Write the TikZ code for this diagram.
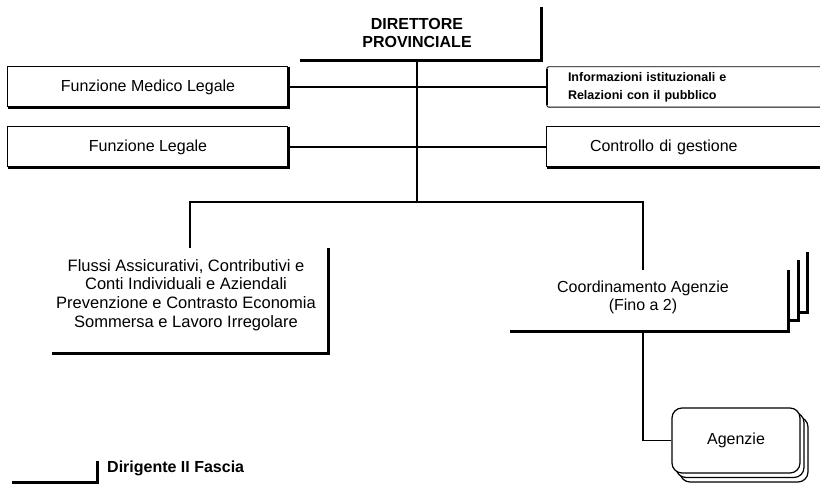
\documentclass[tikz,border=0pt]{standalone}
\usepackage{fontspec}
\setmainfont{Liberation Sans}
\usetikzlibrary{shadows,calc}

% raise a box without changing the extents used to centre it
\newcommand\liftbox[2]{\raisebox{#1}[\height][\depth]{#2}}

\begin{document}
\begin{tikzpicture}[x=1pt,y=-1pt,
  conn/.style={line width=1.5pt},
  heavy/.style={line width=3pt, line join=miter},
  hair/.style={line width=0.9pt},
  txt/.style={font=\fontsize{16}{18}\selectfont},
  box/.style={rectangle, inner sep=0pt, txt},
  boldtxt/.style={font=\bfseries\fontsize{16}{18}\selectfont},
]
\useasboundingbox (0,0) rectangle (820,486);
\clip (0,0) rectangle (820,486);

% --- head of the office
\node[box, boldtxt, minimum width=248pt, minimum height=52pt] (dir) at (417,34)
  {\liftbox{-1pt}{\begin{tabular}{@{}c@{}}DIRETTORE\\PROVINCIALE\end{tabular}}};
\draw[heavy] ([shift={(7,0)}]dir.south west) -- (dir.south east) -- ([shift={(0,-1)}]dir.north east);

% --- staff functions, left side
\node[box, minimum width=280pt, minimum height=40pt] (medico) at (148,87) {Funzione Medico Legale};
\draw[hair] (medico.south west) -- (medico.north west) -- (medico.north east);
\draw[heavy] (medico.north east) -- (medico.south east) -- (medico.south west);

\node[box, minimum width=280pt, minimum height=40pt] (legale) at (148,147) {Funzione Legale};
\draw[hair] (legale.south west) -- (legale.north west) -- (legale.north east);
\draw[heavy] (legale.north east) -- (legale.south east) -- (legale.south west);

% --- staff functions, right side
\node[box, minimum width=273pt, minimum height=40pt, text width=273pt, align=left,
      font=\bfseries\fontsize{12.5}{18}\selectfont] (info) at (683.5,87)
  {\hspace*{21pt}Informazioni istituzionali e\\\hspace*{21pt}Relazioni con il pubblico};
\draw[hair, rounded corners=2pt] (info.north east) -- (info.north west) -- (info.south west) -- (info.south east);
\draw[line width=1.8pt] ([shift={(0,2)}]info.north west) -- ([shift={(0,-2)}]info.south west);

\node[box, minimum width=273pt, minimum height=40pt, text width=273pt, align=left] (ctrl) at (683.5,147)
  {\hspace*{43pt}Controllo di gestione};
\draw[hair] (ctrl.north east) -- (ctrl.north west) -- (ctrl.south west);
\draw[heavy] (ctrl.south west) -- (ctrl.south east);

% --- line areas
\node[box, font=\fontsize{16.5}{18.7}\selectfont, minimum width=276pt, minimum height=105pt] (flussi) at (190,300.5)
  {\liftbox{5pt}{\begin{tabular}{@{}c@{}}Flussi Assicurativi, Contributivi e\\Conti Individuali e Aziendali\\Prevenzione e Contrasto Economia\\Sommersa e Lavoro Irregolare\end{tabular}}\hspace*{8pt}};
\draw[heavy] (flussi.south west) -- (flussi.south east) -- (flussi.north east);

\node[box, minimum width=290pt, minimum height=61pt] (coord) at (643,300.5)
  {\liftbox{3pt}{\begin{tabular}{@{}c@{}}Coordinamento Agenzie\\(Fino a 2)\end{tabular}}};
\draw[heavy] ([shift={(12,0)}]coord.south west) -- (coord.south east) -- (coord.north east);
\draw[heavy] ([shift={(0,-11)}]coord.south east) -| ([shift={(10,-10)}]coord.north east);
\draw[heavy] ([shift={(10,-19)}]coord.south east) -| ([shift={(19,-18)}]coord.north east);

\node[box, draw, fill=white, line width=1.2pt, rounded corners=10pt,
      minimum width=128pt, minimum height=65pt,
      copy shadow={shadow xshift=8pt, shadow yshift=-9pt, draw=black, fill=white, line width=1.2pt},
      copy shadow={shadow xshift=4pt, shadow yshift=-4.5pt, draw=black, fill=white, line width=1.2pt}]
  (agenzie) at (736,440.5) {Agenzie};

% --- connectors
\coordinate (hub) at (417,202);
\draw[conn] (dir.south) -- (hub);
\draw[conn] (medico.east) -- (medico.east -| info.west);
\draw[conn] (legale.east) -- (legale.east -| ctrl.west);
\draw[conn] (flussi.north) -- (flussi.north |- hub) -- (coord.north |- hub) -- (coord.north);
\draw[conn] (coord.south) |- (agenzie.west);

% --- key
\node[inner sep=0pt, anchor=west, boldtxt] (legend) at (107,468) {Dirigente II Fascia};
\coordinate (keycorner) at (97,482);
\draw[heavy] ([shift={(-85,0)}]keycorner) -- (keycorner) -- ([shift={(0,-21)}]keycorner);
\end{tikzpicture}
\end{document}
